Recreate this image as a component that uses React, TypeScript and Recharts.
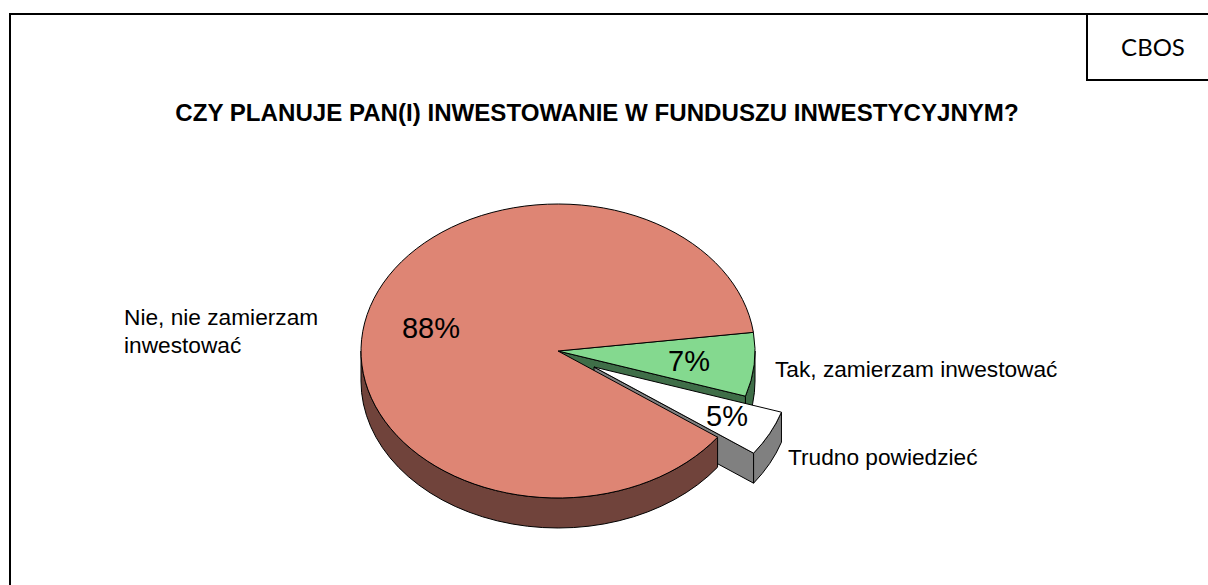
import React from "react";
import { PieChart, Pie } from "recharts";

const categories = ["Tak, zamierzam inwestować", "Trudno powiedzieć", "Nie, nie zamierzam inwestować"];
const values = [7, 5, 88];

const categoryLines = [["Tak, zamierzam inwestować"], ["Trudno powiedzieć"], ["Nie, nie zamierzam", "inwestować"]];
const topColors = ["#84d98f", "#ffffff", "#de8574"];
const wallColors = ["#3f6e48", "#808080", "#70433b"];
const explodeX = [0, 36, 0];
const explodeY = [0, 16, 0];
const percentAnchors = [[131, 20], [169, 75], [-127, -13]];
const nameAnchors = [[217, 26], [230, 114], [-434, -26]];

const tableRows = categories.map((name, i) => ({ name, value: values[i] }));

const SQUASH = 147 / 197;
const DEPTH = 30;
const FONT = "'Liberation Sans', Arial, sans-serif";

function SliceShape(props: any) {
  const { cx, cy, outerRadius: r, startAngle, endAngle, index } = props;
  const ry = r * SQUASH;
  const px = (deg: number) => cx + r * Math.cos((deg * Math.PI) / 180);
  const py = (deg: number) => cy - ry * Math.sin((deg * Math.PI) / 180);
  const large = Math.abs(startAngle - endAngle) > 180 ? 1 : 0;
  const top = `M${cx},${cy} L${px(startAngle)},${py(startAngle)} A${r},${ry} 0 ${large} 1 ${px(endAngle)},${py(endAngle)} Z`;

  const wallFrom = Math.min(startAngle, 0);
  const wallTo = Math.max(endAngle, -180);
  const wall =
    wallFrom > wallTo
      ? `M${px(wallFrom)},${py(wallFrom)} A${r},${ry} 0 0 1 ${px(wallTo)},${py(wallTo)} L${px(wallTo)},${py(wallTo) + DEPTH} A${r},${ry} 0 0 0 ${px(wallFrom)},${py(wallFrom) + DEPTH} Z`
      : null;
  const showFace = endAngle < 0 && endAngle > -90;
  const face = showFace
    ? `M${cx},${cy} L${px(endAngle)},${py(endAngle)} L${px(endAngle)},${py(endAngle) + DEPTH} L${cx},${cy + DEPTH} Z`
    : null;

  const common = { stroke: "#000", strokeWidth: 1, strokeLinejoin: "round" as const };
  return (
    <g transform={`translate(${explodeX[index]},${explodeY[index]})`}>
      {face && <path d={face} fill={wallColors[index]} {...common} />}
      {wall && <path d={wall} fill={wallColors[index]} {...common} />}
      <path d={top} fill={topColors[index]} {...common} />
    </g>
  );
}

function SliceLabel(props: any) {
  const { cx, cy, index, value } = props;
  const [pdx, pdy] = percentAnchors[index];
  const [ndx, ndy] = nameAnchors[index];
  return (
    <g style={{ fontFamily: FONT }}>
      <text x={cx + pdx} y={cy + pdy} textAnchor="middle" fontSize={29} fill="#000">
        {`${value}%`}
      </text>
      {categoryLines[index].map((line, i) => (
        <text key={line} x={cx + ndx} y={cy + ndy + i * 28} fontSize={22.7} fill="#000">
          {line}
        </text>
      ))}
    </g>
  );
}

export default function App() {
  return (
    <div style={{ position: "absolute", left: 0, top: 0, width: 1208, height: 585, overflow: "hidden", background: "#fff" }}>
      <div style={{ position: "absolute", left: 9, top: 13, width: 1199, height: 572, borderLeft: "2px solid #000", borderTop: "2px solid #000", boxSizing: "border-box" }} />
      <div style={{ position: "absolute", left: 1086, top: 13, width: 122, height: 68, borderLeft: "2px solid #000", borderBottom: "2px solid #000", borderTop: "2px solid #000", boxSizing: "border-box" }} />
      <div style={{ position: "absolute", left: 1098, top: 15, width: 110, height: 64, lineHeight: "64px", textAlign: "center", fontFamily: "Lato, sans-serif", fontSize: 24, color: "#000" }}>CBOS</div>
      <div style={{ position: "absolute", left: 0, top: 99, width: 1194, textAlign: "center", fontFamily: FONT, fontWeight: 700, fontSize: 24.1, lineHeight: "28px", color: "#000", whiteSpace: "nowrap" }}>
        CZY PLANUJE PAN(I) INWESTOWANIE W FUNDUSZU INWESTYCYJNYM?
      </div>
      <div style={{ position: "absolute", left: 0, top: 0 }}>
        <PieChart width={1208} height={585} margin={{ top: 0, right: 0, bottom: 0, left: 0 }}>
          <Pie
            data={tableRows}
            dataKey="value"
            nameKey="name"
            cx={558}
            cy={351}
            innerRadius={0}
            outerRadius={197}
            startAngle={7.3}
            endAngle={-352.7}
            paddingAngle={0}
            isAnimationActive={false}
            shape={SliceShape}
            label={SliceLabel}
            labelLine={false}
          />
        </PieChart>
      </div>
    </div>
  );
}
